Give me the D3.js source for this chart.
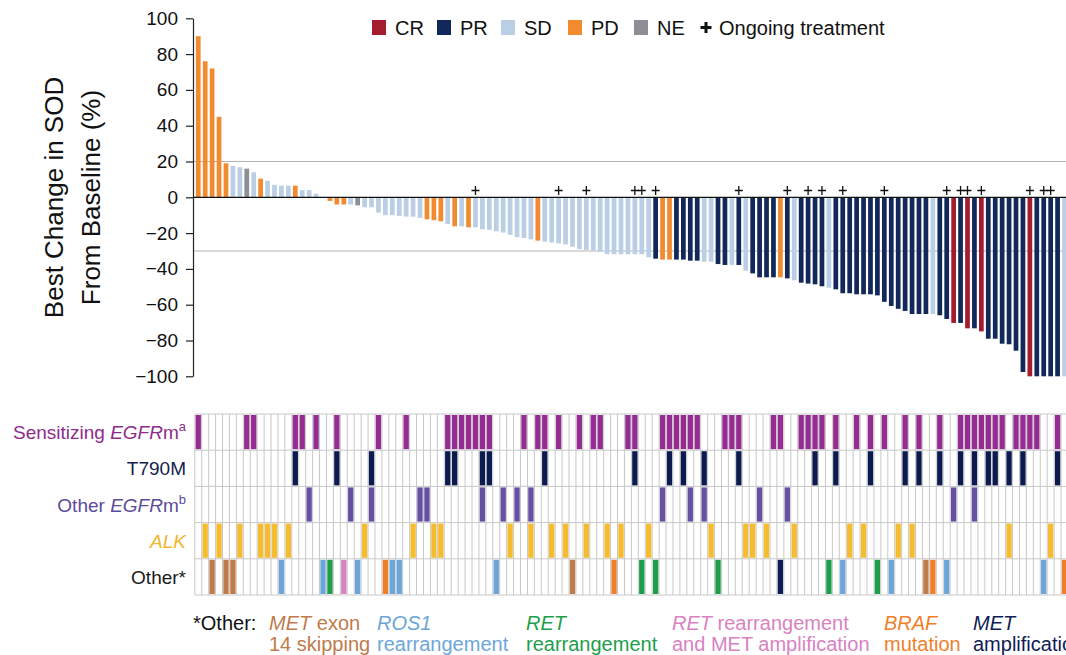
<!DOCTYPE html>
<html>
<head>
<meta charset="utf-8">
<script src="https://d3js.org/d3.v7.min.js"></script>
<style>
body{margin:0;background:#fff;}
svg{display:block;font-family:"Liberation Sans",Arial,sans-serif;}
</style>
</head>
<body>
<svg id="chart" width="1066" height="655"></svg>
<script>
// best change in SOD per patient, sorted
var values = [90,76,72,45,19,17.5,16.8,16,14,10.4,
  9.3,7,6.5,6.5,6.5,4,4,2,0,-2,
  -4,-4,-4,-4.5,-5.6,-5.6,-8.6,-10,-10,-10.4,
  -10.8,-10.8,-11.5,-12.3,-12.8,-13.4,-14.9,-16.2,-16.2,-16.8,
  -16.8,-17.9,-18.2,-19,-19.7,-21,-22.3,-22.7,-23.5,-24.2,
  -24.8,-25.3,-25.7,-26.3,-27.6,-29,-29.4,-29.8,-30.4,-31.8,
  -31.8,-31.8,-31.8,-31.8,-31.8,-33.5,-34.3,-34.8,-34.8,-34.8,
  -34.8,-35.4,-35.4,-36,-36,-37.3,-37.8,-37.8,-37.8,-41,
  -42.5,-44.7,-44.7,-44.7,-44.7,-45.3,-46.4,-47.7,-48.2,-48.6,
  -49.7,-50.5,-51.4,-53.6,-53.6,-54.2,-54.2,-54.2,-54.8,-58.4,
  -60.7,-62.3,-63.5,-65.2,-65.2,-65.2,-65.2,-65.9,-68,-70.2,
  -70.2,-73.2,-73.2,-74.9,-79,-79,-81.8,-82.1,-85.7,-97.6,
  -100,-100,-100,-100,-100,-100];

var response = ["PD","PD","PD","PD","PD","SD","SD","NE","SD","PD",
  "SD","SD","SD","SD","PD","SD","SD","SD","SD","PD",
  "PD","PD","SD","NE","SD","SD","SD","SD","SD","SD",
  "SD","SD","SD","PD","PD","PD","SD","PD","SD","PD",
  "SD","SD","SD","SD","SD","SD","SD","SD","SD","PD",
  "SD","SD","SD","SD","SD","SD","SD","SD","SD","SD",
  "SD","SD","SD","SD","SD","SD","PR","PD","PD","PR",
  "PR","PR","PR","SD","SD","PR","PR","SD","PR","SD",
  "PR","PR","PR","PR","PD","PR","SD","PR","PR","PR",
  "PR","SD","PR","PR","PR","PR","PR","PR","PR","PR",
  "PR","PR","PR","PR","PR","PR","SD","PR","PR","CR",
  "PR","CR","PR","CR","PR","PR","PR","PR","PR","PR",
  "CR","PR","PR","PR","PR","SD"];

var ongoing = [40,52,56,63,64,66,78,85,88,90,93,99,108,110,111,113,120,122,123];

var yTicks = [100,80,60,40,20,0,-20,-40,-60,-80,-100];
var refLines = [20,-30];

// patients (column index) per mutation row
var sensitizing = [0,7,8,14,15,17,20,26,30,36,37,38,39,40,41,42,47,49,50,52,55,57,58,62,63,
  67,68,69,70,71,72,76,77,78,83,84,87,88,89,90,92,95,97,99,102,104,107,110,111,112,113,
  114,115,116,118,119,120,121,124];
var t790m = [14,20,25,36,37,41,42,50,63,68,70,73,78,89,92,97,102,104,107,110,112,114,115,117,119,124];
var otherEgfr = [16,22,25,32,33,41,44,46,48,67,71,73,81,85,109,112];
var alk = [1,3,6,9,10,11,13,24,31,34,35,45,48,51,53,56,59,61,65,74,79,80,82,86,94,96,101,103,117,123];
var otherMut = [[2,"met14"],[4,"met14"],[5,"met14"],[12,"ros1"],[18,"ros1"],[19,"ret"],[21,"retmet"],
  [23,"ros1"],[27,"braf"],[28,"ros1"],[29,"ros1"],[43,"ros1"],[54,"met14"],[60,"braf"],[64,"ret"],
  [66,"ret"],[75,"ret"],[84,"metamp"],[91,"ret"],[93,"ros1"],[98,"ret"],[100,"ros1"],[105,"met14"],
  [106,"braf"],[108,"ros1"],[122,"ros1"],[125,"braf"]];

var respKeys = ["CR","PR","SD","PD","NE"];
var otherKeys = ["met14","ros1","ret","retmet","braf","metamp"];
var otherLine1 = [["MET"," exon"],["ROS1",""],["RET",""],["RET"," rearrangement"],["BRAF",""],["MET",""]];
var otherLine2 = ["14 skipping","rearrangement","rearrangement","and MET amplification","mutation","amplification"];

var respColor = {CR:"#a51c30",PR:"#12285a",SD:"#bacfe6",PD:"#f28a2f",NE:"#8e8e96"};
var otherColor = {met14:"#c07b4b",ros1:"#6ca6d9",ret:"#1e9e4b",retmet:"#d982c2",braf:"#f07f2a",metamp:"#0f1c57"};
var rowColor = ["#952c92","#0c1a50","#6550a3","#f6bc30"];

var svg = d3.select("#chart");
var n = values.length;
var step = 6.93, left = 194.8;

var x = d3.scaleBand()
    .domain(d3.range(n))
    .range([left, left + step*n])
    .paddingInner(0.32)
    .paddingOuter(0.16);
var y = d3.scaleLinear().domain([-100,100]).range([376.3,18.3]);

function cellX(k){
    return x(k) - x.step()*x.paddingOuter();
}

// reference lines at +20 / -30
svg.selectAll(".ref")
    .data(refLines)
    .enter()
    .append("line")
    .attr("class","ref")
    .attr("x1",193).attr("x2",1066)
    .attr("y1",function(d){return y(d);})
    .attr("y2",function(d){return y(d);})
    .attr("stroke","#b4b4b4")
    .attr("stroke-width",1.2);

svg.selectAll(".bar")
    .data(values)
    .enter()
    .append("rect")
    .attr("class","bar")
    .attr("x",function(d,i){return x(i);})
    .attr("width",x.bandwidth())
    .attr("y",function(d){return Math.min(y(d),y(0));})
    .attr("height",function(d){return Math.abs(y(d)-y(0));})
    .attr("fill",function(d,i){return respColor[response[i]];});

svg.append("line")
    .attr("x1",193).attr("x2",1066)
    .attr("y1",y(0)).attr("y2",y(0))
    .attr("stroke","#111")
    .attr("stroke-width",1.3);

var axis = svg.append("g")
    .attr("transform","translate(193,0)")
    .call(d3.axisLeft(y).tickValues(yTicks).tickSize(7).tickPadding(8).tickSizeOuter(0));
axis.attr("font-size",19).attr("font-family","Liberation Sans, Arial, sans-serif");
axis.selectAll("text").attr("fill","#111");
axis.selectAll("line,path").attr("stroke","#222").attr("stroke-width",1.2);

// ongoing treatment marks
svg.selectAll(".plus")
    .data(ongoing)
    .enter()
    .append("path")
    .attr("class","plus")
    .attr("d",function(k){
        var cx = x(k) + x.bandwidth()/2, cy = 190.5;
        return "M"+(cx-4)+","+cy+"H"+(cx+4)+"M"+cx+","+(cy-4.5)+"V"+(cy+4.5);
    })
    .attr("stroke","#111")
    .attr("stroke-width",1.3)
    .attr("fill","none");

// y label
var ylab = svg.append("g").attr("font-size",26).attr("fill","#111").attr("text-anchor","middle");
ylab.append("text").attr("transform","translate(63,197.5) rotate(-90)").text("Best Change in SOD");
ylab.append("text").attr("transform","translate(100,197.5) rotate(-90)").text("From Baseline (%)");

// top legend
var legX = [372,437,501,568,634];
var leg = svg.append("g").attr("font-size",20).attr("fill","#111");
leg.selectAll("rect")
    .data(respKeys)
    .enter()
    .append("rect")
    .attr("x",function(d,i){return legX[i];})
    .attr("y",20)
    .attr("width",14).attr("height",15)
    .attr("fill",function(d){return respColor[d];});
leg.selectAll("text")
    .data(respKeys)
    .enter()
    .append("text")
    .attr("x",function(d,i){return legX[i]+23;})
    .attr("y",34.5)
    .text(function(d){return d;});
leg.append("path")
    .attr("d","M700.5,27.5H711.5M706,22V33")
    .attr("stroke","#111").attr("stroke-width",3);
leg.append("text").attr("x",719).attr("y",34.5).text("Ongoing treatment");

// mutation grid
var rowTop = 414, rowH = 36.2, nRows = 5;
var cells = [];
[sensitizing,t790m,otherEgfr,alk].forEach(function(list,r){
    list.forEach(function(k){ cells.push({k:k,r:r,c:rowColor[r]}); });
});
otherMut.forEach(function(p){ cells.push({k:p[0],r:4,c:otherColor[p[1]]}); });

var grid = svg.append("g");
grid.selectAll(".vl")
    .data(d3.range(n+1))
    .enter()
    .append("line")
    .attr("x1",function(k){return k<n ? cellX(k) : cellX(n-1)+step;})
    .attr("x2",function(k){return k<n ? cellX(k) : cellX(n-1)+step;})
    .attr("y1",rowTop).attr("y2",rowTop+rowH*nRows)
    .attr("stroke","#c8c8c8").attr("stroke-width",1);
grid.selectAll(".hl")
    .data(d3.range(nRows+1))
    .enter()
    .append("line")
    .attr("x1",cellX(0)).attr("x2",1066)
    .attr("y1",function(r){return rowTop+r*rowH;})
    .attr("y2",function(r){return rowTop+r*rowH;})
    .attr("stroke","#c8c8c8").attr("stroke-width",1);
grid.selectAll(".cell")
    .data(cells)
    .enter()
    .append("rect")
    .attr("x",function(d){return cellX(d.k)+0.8;})
    .attr("width",step-1.6)
    .attr("y",function(d){return rowTop+d.r*rowH+1;})
    .attr("height",rowH-2)
    .attr("fill",function(d){return d.c;});

// row labels
var rowLabels = [
  {c:"#8e2b8c",parts:[["Sensitizing ",0],["EGFR",1],["m",0],["a",2]]},
  {c:"#141e4e",parts:[["T790M",0]]},
  {c:"#5b4b9a",parts:[["Other ",0],["EGFR",1],["m",0],["b",2]]},
  {c:"#f2b52c",parts:[["ALK",1]]},
  {c:"#1a1a1a",parts:[["Other*",0]]}
];
rowLabels.forEach(function(lab,r){
    var t = svg.append("text")
        .attr("x",186)
        .attr("y",rowTop+r*rowH+rowH/2+7)
        .attr("text-anchor","end")
        .attr("font-size",19)
        .attr("fill",lab.c);
    lab.parts.forEach(function(p){
        var s = t.append("tspan").text(p[0]);
        if(p[1]==1) s.attr("font-style","italic");
        if(p[1]==2) s.attr("font-size",13).attr("dy",-8);
    });
});

// footnote legend
var footX = [269,377,526,672,884,973];
var foot = svg.append("g").attr("font-size",20);
foot.append("text").attr("x",193).attr("y",630).attr("fill","#111").text("*Other:");
otherKeys.forEach(function(key,i){
    var t1 = foot.append("text").attr("x",footX[i]).attr("y",630).attr("fill",otherColor[key]);
    t1.append("tspan").attr("font-style","italic").text(otherLine1[i][0]);
    if(otherLine1[i][1]) t1.append("tspan").text(otherLine1[i][1]);
    foot.append("text").attr("x",footX[i]).attr("y",651).attr("fill",otherColor[key]).text(otherLine2[i]);
});
</script>
</body>
</html>
